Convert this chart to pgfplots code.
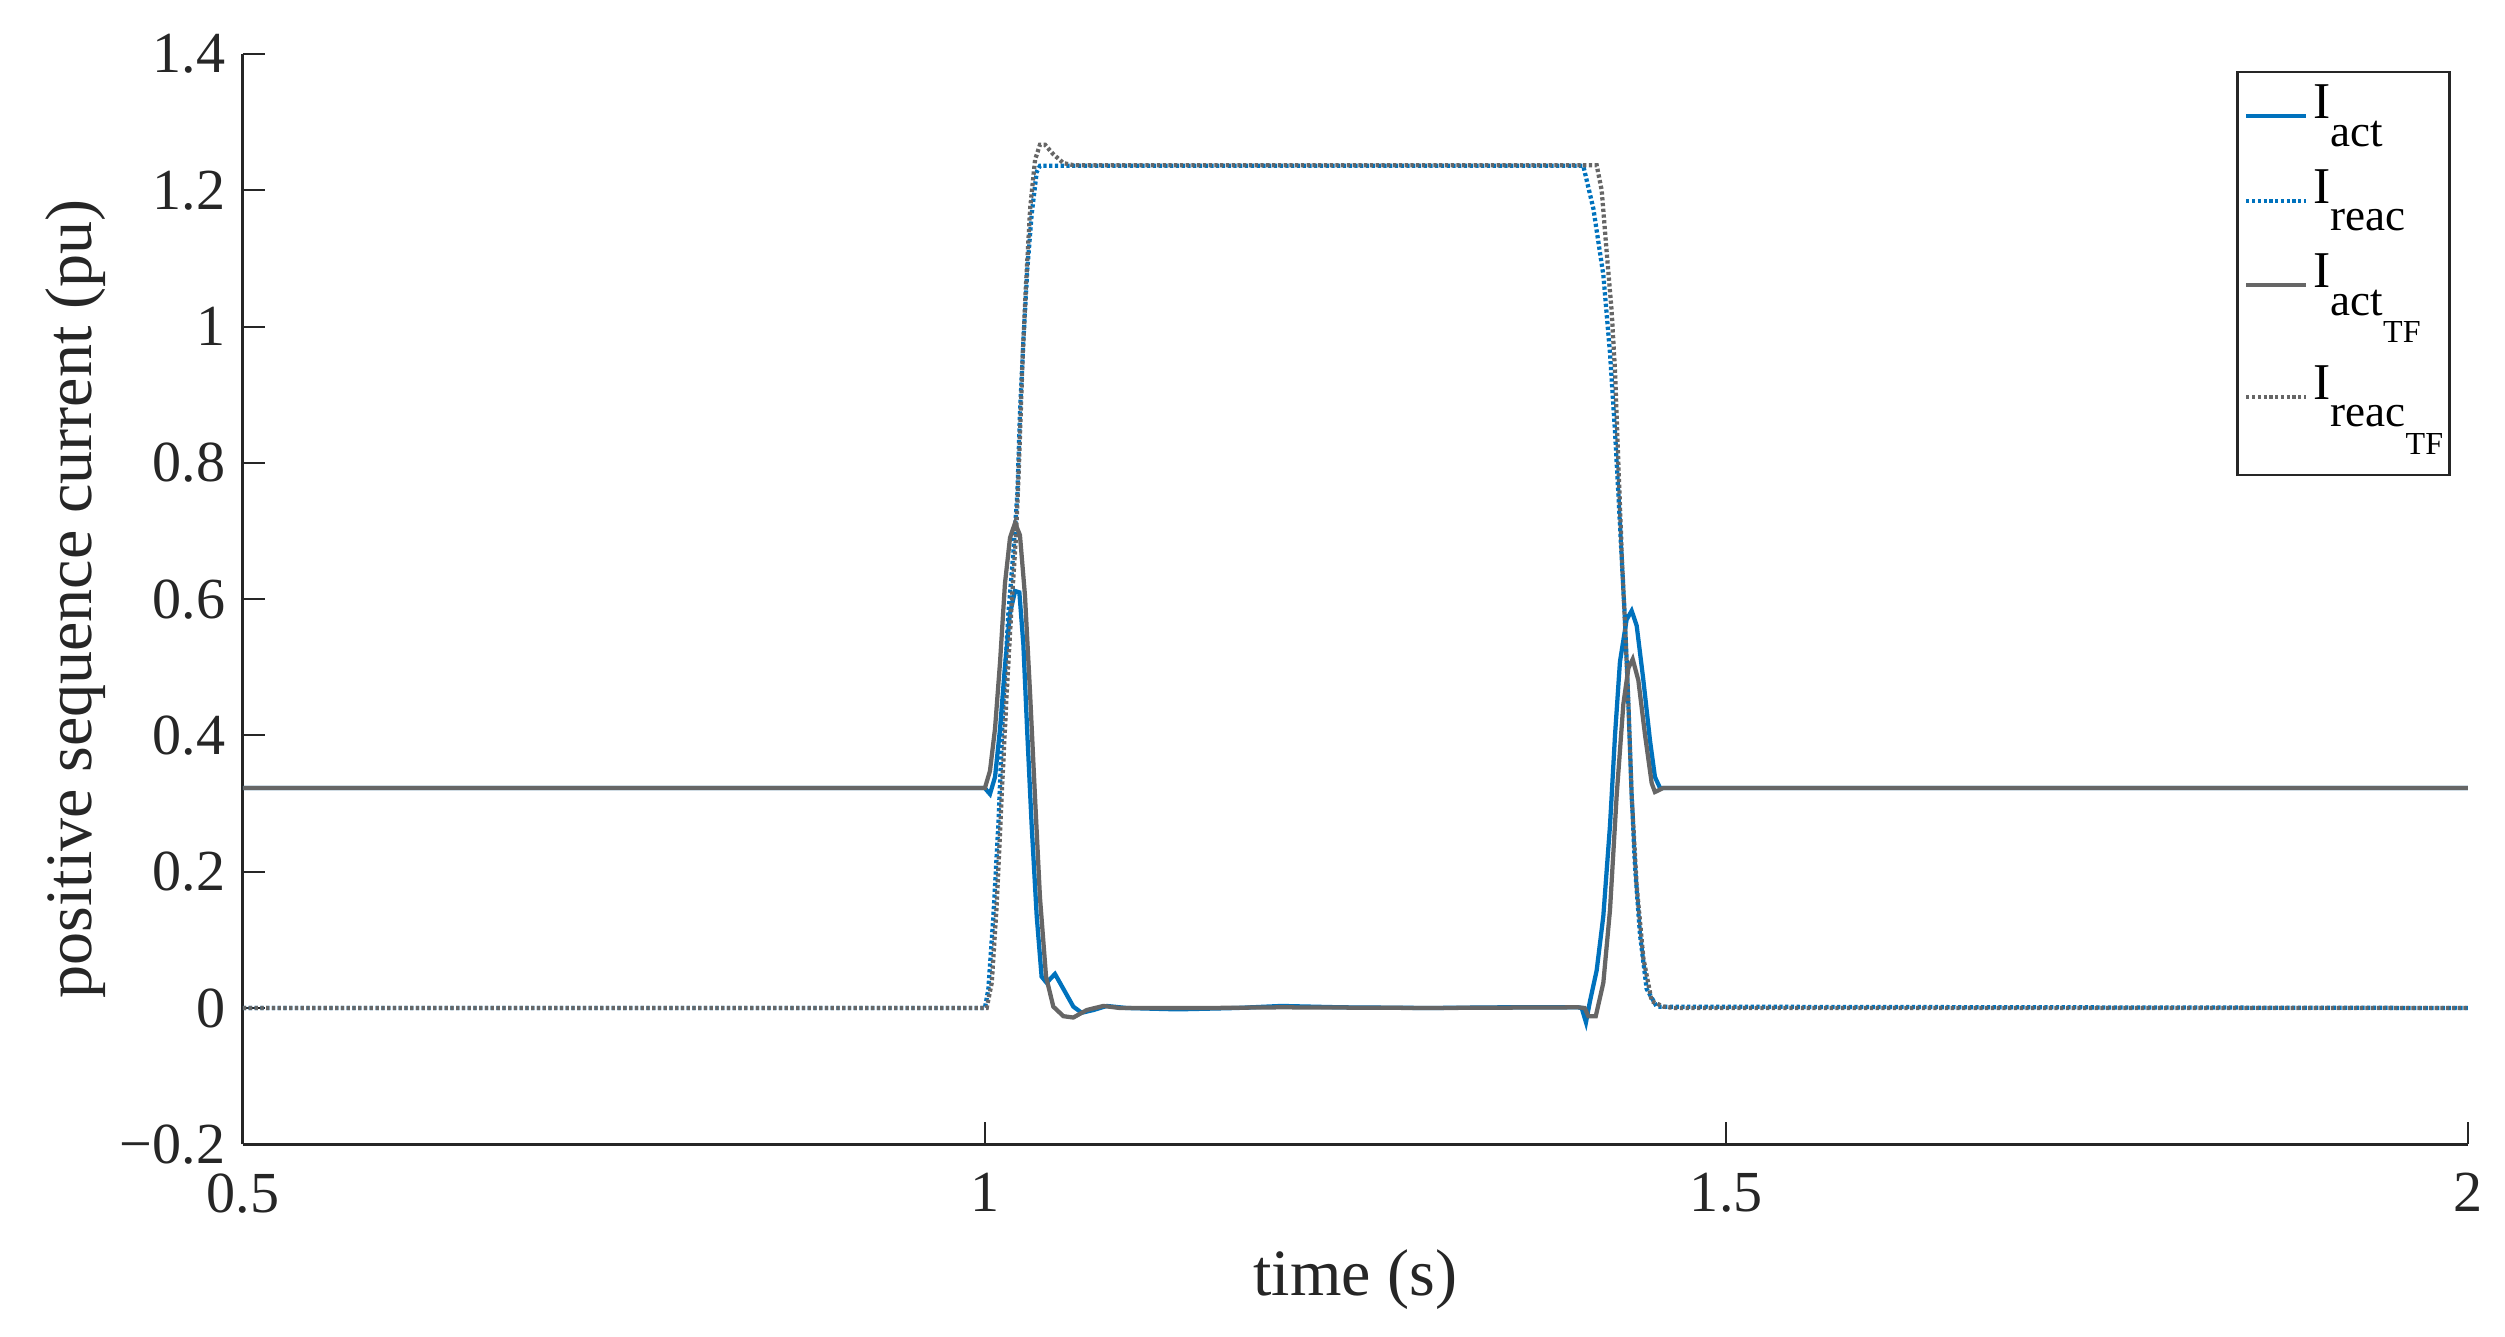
\documentclass[border=0pt]{standalone}
\usepackage{fontspec}
\setmainfont{Liberation Serif}
\usepackage{pgfplots}
\pgfplotsset{compat=1.18}
\definecolor{mblue}{RGB}{0,114,189}
\definecolor{mgray}{RGB}{102,102,102}
\definecolor{axgray}{RGB}{38,38,38}
\newcommand{\entA}[1]{\raisebox{5.5pt}{I}{\fontsize{9.0}{10}\selectfont #1}}
\newcommand{\entB}[1]{\raisebox{11pt}{I}\raisebox{5.5pt}{\fontsize{9.0}{10}\selectfont #1}{\fontsize{6.4}{7}\selectfont TF}}
\pgfplotsset{
 limgA/.style={legend image code/.code={\draw[##1] (0pt,0.6pt) -- (12pt,0.6pt);}},
 limgB/.style={legend image code/.code={\draw[##1] (0pt,3.3pt) -- (12pt,3.3pt);}},
}
\begin{document}
\begin{tikzpicture}
\begin{axis}[
 scale only axis, width=444.1pt, height=217.6pt,
 xmin=0.5, xmax=2, ymin=-0.2, ymax=1.4,
 axis x line*=bottom, axis y line*=left,
 axis line style={axgray, line width=0.6pt, -},
 xtick={0.5,1,1.5,2}, xticklabels={0.5,1,1.5,2},
 ytick={-0.2,0,0.2,0.4,0.6,0.8,1,1.2,1.4},
 yticklabels={−0.2,0,0.2,0.4,0.6,0.8,1,1.2,1.4},
 tick align=inside, major tick length=4.4pt,
 tick style={axgray, line width=0.4pt},
 ticklabel style={font=\fontsize{11.6}{13}\selectfont, text=axgray},
 xticklabel style={yshift=-2.3pt},
 xlabel={time (s)}, ylabel={positive sequence current (pu)},
 label style={font=\fontsize{13.2}{15}\selectfont, text=axgray},
 xlabel style={at={(axis description cs:0.5,-0.1245)}, anchor=center},
 ylabel style={at={(axis description cs:-0.0754,0.5)}, anchor=center},
 legend style={at={(1,1)}, anchor=north east, xshift=-3.4pt, yshift=-3.3pt,
   draw=axgray, line width=0.5pt, fill=white,
   font=\fontsize{10.3}{12}\selectfont, nodes={inner sep=0pt},
   row sep=3.1pt, inner xsep=1.3pt, inner ysep=2.6pt,
   /tikz/every odd column/.append style={column sep=1pt}},
 legend cell align=left,
]
\coordinate (ll) at (rel axis cs:0,0);
\coordinate (ur) at (rel axis cs:1,1);
% I_act
\addplot[mblue, line width=0.85pt, limgA] coordinates {
(0.5,0.323)(1.000,0.323)(1.0036,0.314)(1.0070,0.339)(1.0104,0.410)(1.0136,0.499)
(1.0171,0.579)(1.0205,0.612)(1.0234,0.610)(1.0261,0.534)(1.0288,0.401)(1.0317,0.268)
(1.0351,0.135)(1.0384,0.046)(1.0418,0.037)(1.0474,0.050)(1.0531,0.028)(1.0598,0.002)
(1.0654,-0.007)(1.0733,-0.003)(1.0823,0.003)(1.0957,0.000)(1.13,-0.002)(1.17,0.000)
(1.20,0.003)(1.24,0.001)(1.30,0.000)(1.35,0.001)(1.40,0.001)(1.4025,0.000)
(1.4054,-0.021)(1.4081,0.010)(1.4126,0.055)(1.4171,0.135)(1.4216,0.268)(1.4250,0.401)
(1.4283,0.508)(1.4328,0.570)(1.4362,0.583)(1.4396,0.561)(1.4441,0.481)(1.4486,0.392)
(1.4519,0.339)(1.4553,0.323)(2.0,0.323)};
\addlegendentry{\entA{act}}
% I_reac
\addplot[mblue, line width=0.85pt, dash pattern=on 0.65pt off 0.5pt, limgA] coordinates {
(0.5,0)(1.0002,0)(1.0025,0.028)(1.0059,0.135)(1.0092,0.268)(1.0126,0.446)(1.0160,0.579)
(1.0193,0.667)(1.0221,0.756)(1.0238,0.872)(1.0261,0.978)(1.0288,1.085)(1.0317,1.165)
(1.0351,1.227)(1.0373,1.236)(1.40,1.236)(1.4036,1.236)(1.4104,1.173)(1.4171,1.076)
(1.4216,0.961)(1.4250,0.845)(1.4272,0.756)(1.4295,0.659)(1.4317,0.570)(1.4340,0.446)
(1.4362,0.312)(1.4385,0.206)(1.4418,0.108)(1.4463,0.028)(1.4531,0.002)(2.0,0)};
\addlegendentry{\entA{reac}}
% I_act TF
\addplot[mgray, line width=0.85pt, limgB] coordinates {
(0.5,0.323)(1.0002,0.323)(1.0036,0.348)(1.0070,0.410)(1.0104,0.508)(1.0137,0.623)
(1.0171,0.690)(1.0205,0.712)(1.0238,0.694)(1.0272,0.605)(1.0306,0.463)(1.0339,0.312)
(1.0373,0.162)(1.0414,0.046)(1.0463,0.002)(1.0531,-0.012)(1.0598,-0.014)(1.0688,-0.003)
(1.0800,0.003)(1.0912,0)(1.15,0)(1.20,0.001)(1.30,0)(1.40,0.001)(1.4045,0.000)
(1.407,-0.012)(1.412,-0.012)(1.4171,0.037)(1.4216,0.144)(1.4261,0.312)(1.4306,0.446)
(1.4340,0.499)(1.4369,0.512)(1.4407,0.481)(1.4452,0.401)(1.4497,0.330)(1.4519,0.317)
(1.4576,0.323)(2.0,0.323)};
\addlegendentry{\entB{act}}
% I_reac TF
\addplot[mgray, line width=0.85pt, dash pattern=on 0.65pt off 0.5pt, limgB] coordinates {
(0.5,0)(1.0014,0)(1.0048,0.037)(1.0082,0.153)(1.0115,0.312)(1.0149,0.463)(1.0183,0.596)
(1.0212,0.694)(1.0232,0.801)(1.0257,0.960)(1.0280,1.067)(1.0307,1.174)(1.0340,1.245)
(1.0373,1.267)(1.0407,1.267)(1.0463,1.253)(1.0531,1.240)(1.0598,1.237)(1.4126,1.237)
(1.4160,1.200)(1.4193,1.111)(1.4227,1.023)(1.4250,0.934)(1.4272,0.801)(1.4295,0.667)
(1.4317,0.561)(1.4340,0.446)(1.4362,0.312)(1.4396,0.179)(1.4441,0.073)(1.4497,0.010)
(1.4576,0.002)(1.4650,0)(2.0,0)};
\addlegendentry{\entB{reac}}
\end{axis}
\pgfresetboundingbox
\path ([shift={(-48.5pt,-38.3pt)}]ll) rectangle ([shift={(7.4pt,10.8pt)}]ur);
\end{tikzpicture}
\end{document}
